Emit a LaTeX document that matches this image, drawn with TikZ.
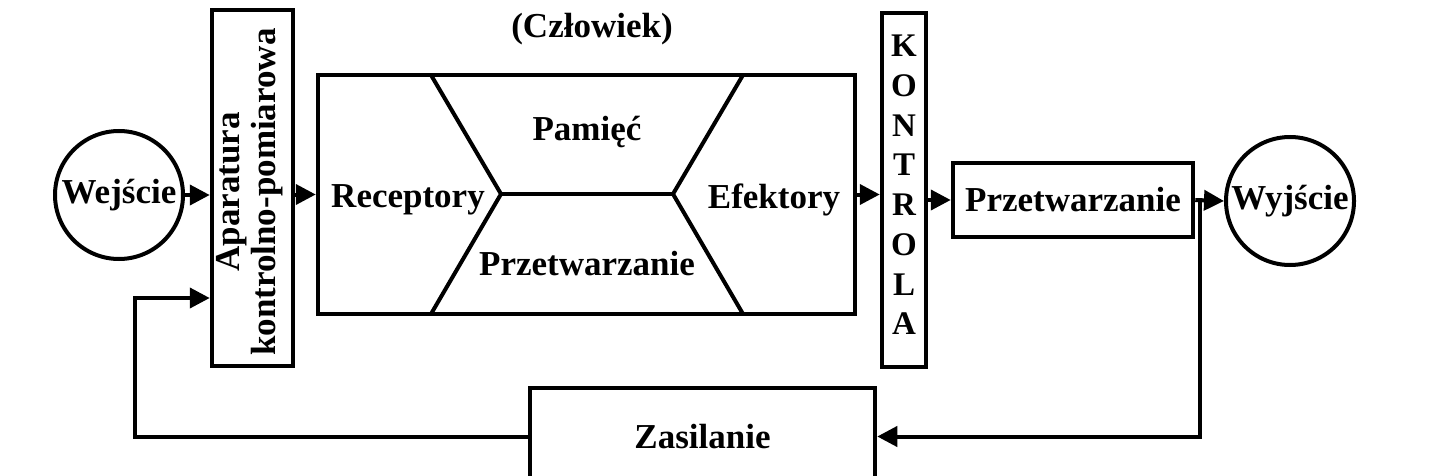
\documentclass[tikz,border=0pt]{standalone}
\usepackage{fontspec}
\setmainfont{Liberation Serif}
\usetikzlibrary{arrows.meta}
\begin{document}
\begin{tikzpicture}[x=1pt,y=1pt,
  every node/.style={font=\bfseries\fontsize{35}{40}\selectfont, inner sep=0pt},
  box/.style={draw, line width=4.5pt},
  circ/.style={draw, circle, line width=4pt, minimum size=128pt},
  conn/.style={line width=4pt},
  arr/.style={conn, -{Triangle[length=20pt,width=20pt]}},
  lbl/.style={anchor=base},
]
\useasboundingbox (0,0) rectangle (1431,475);
\clip (0,0) rectangle (1431,475);
\fill[white] (0,0) rectangle (1431,475);

% input / output circles
\node[circ] (wej) at (119,280) {Wejście};
\node[circ] (wyj) at (1290,274) {Wyjście};

% Aparatura kontrolno-pomiarowa
\node[box, minimum width=81pt, minimum height=356pt] (apar) at (252.5,287) {};
\node[rotate=90, align=center, font=\bfseries\fontsize{35}{36}\selectfont] (apart) at (250,283) {Aparatura\\kontrolno-pomiarowa};

% Human block
\node[box, minimum width=537pt, minimum height=239pt] (czl) at (586.5,280.5) {};
\coordinate (tl) at (431,400);
\coordinate (ml) at (501,281);
\coordinate (mr) at (673,281);
\coordinate (tr) at (743,400);
\coordinate (bl) at (431,161);
\coordinate (br) at (743,161);
\draw[line width=4pt, line join=round] (tl) -- (ml) -- (bl);
\draw[line width=4pt, line join=round] (tr) -- (mr) -- (br);
\draw[line width=4pt] (ml) -- (mr);
\node[lbl] (rec) at (408,268) {Receptory};
\node[lbl] (pam) at (587,335) {Pamięć};
\node[lbl] (prz1) at (587,200) {Przetwarzanie};
\node[lbl] (efe) at (774,267) {Efektory};
\node[lbl] (czt) at (592,437) {(Człowiek)};

% KONTROLA
\node[box, minimum width=44pt, minimum height=354pt] (kon) at (904,285) {};
\node[align=center, font=\bfseries\fontsize{33}{39.7}\selectfont] (kont) at (904,290) {K\\O\\N\\T\\R\\O\\L\\A};

% Przetwarzanie
\node[box, minimum width=240pt, minimum height=74pt] (prz) at (1073,275) {Przetwarzanie};

% Zasilanie (cut by the lower edge)
\node[box, minimum width=345pt, minimum height=97pt] (zas) at (702.5,38.5) {Zasilanie};

% connectors
\draw[arr] (wej.east) -- (wej.east -| apar.west);
\draw[arr] (czl.west -| apar.east) -- (czl.west);
\draw[arr] (czl.east) -- (czl.east -| kon.west);
\draw[arr] (prz.west -| kon.east) -- (prz.west);
\draw[arr] (prz.east) -- (wyj.west);
\coordinate (split) at (1200,275);
\draw[arr] (split) |- (zas.east);
\coordinate (fb) at (135,177);
\draw[arr] (zas.west) -| (fb) -- (fb -| apar.west);
\end{tikzpicture}
\end{document}
